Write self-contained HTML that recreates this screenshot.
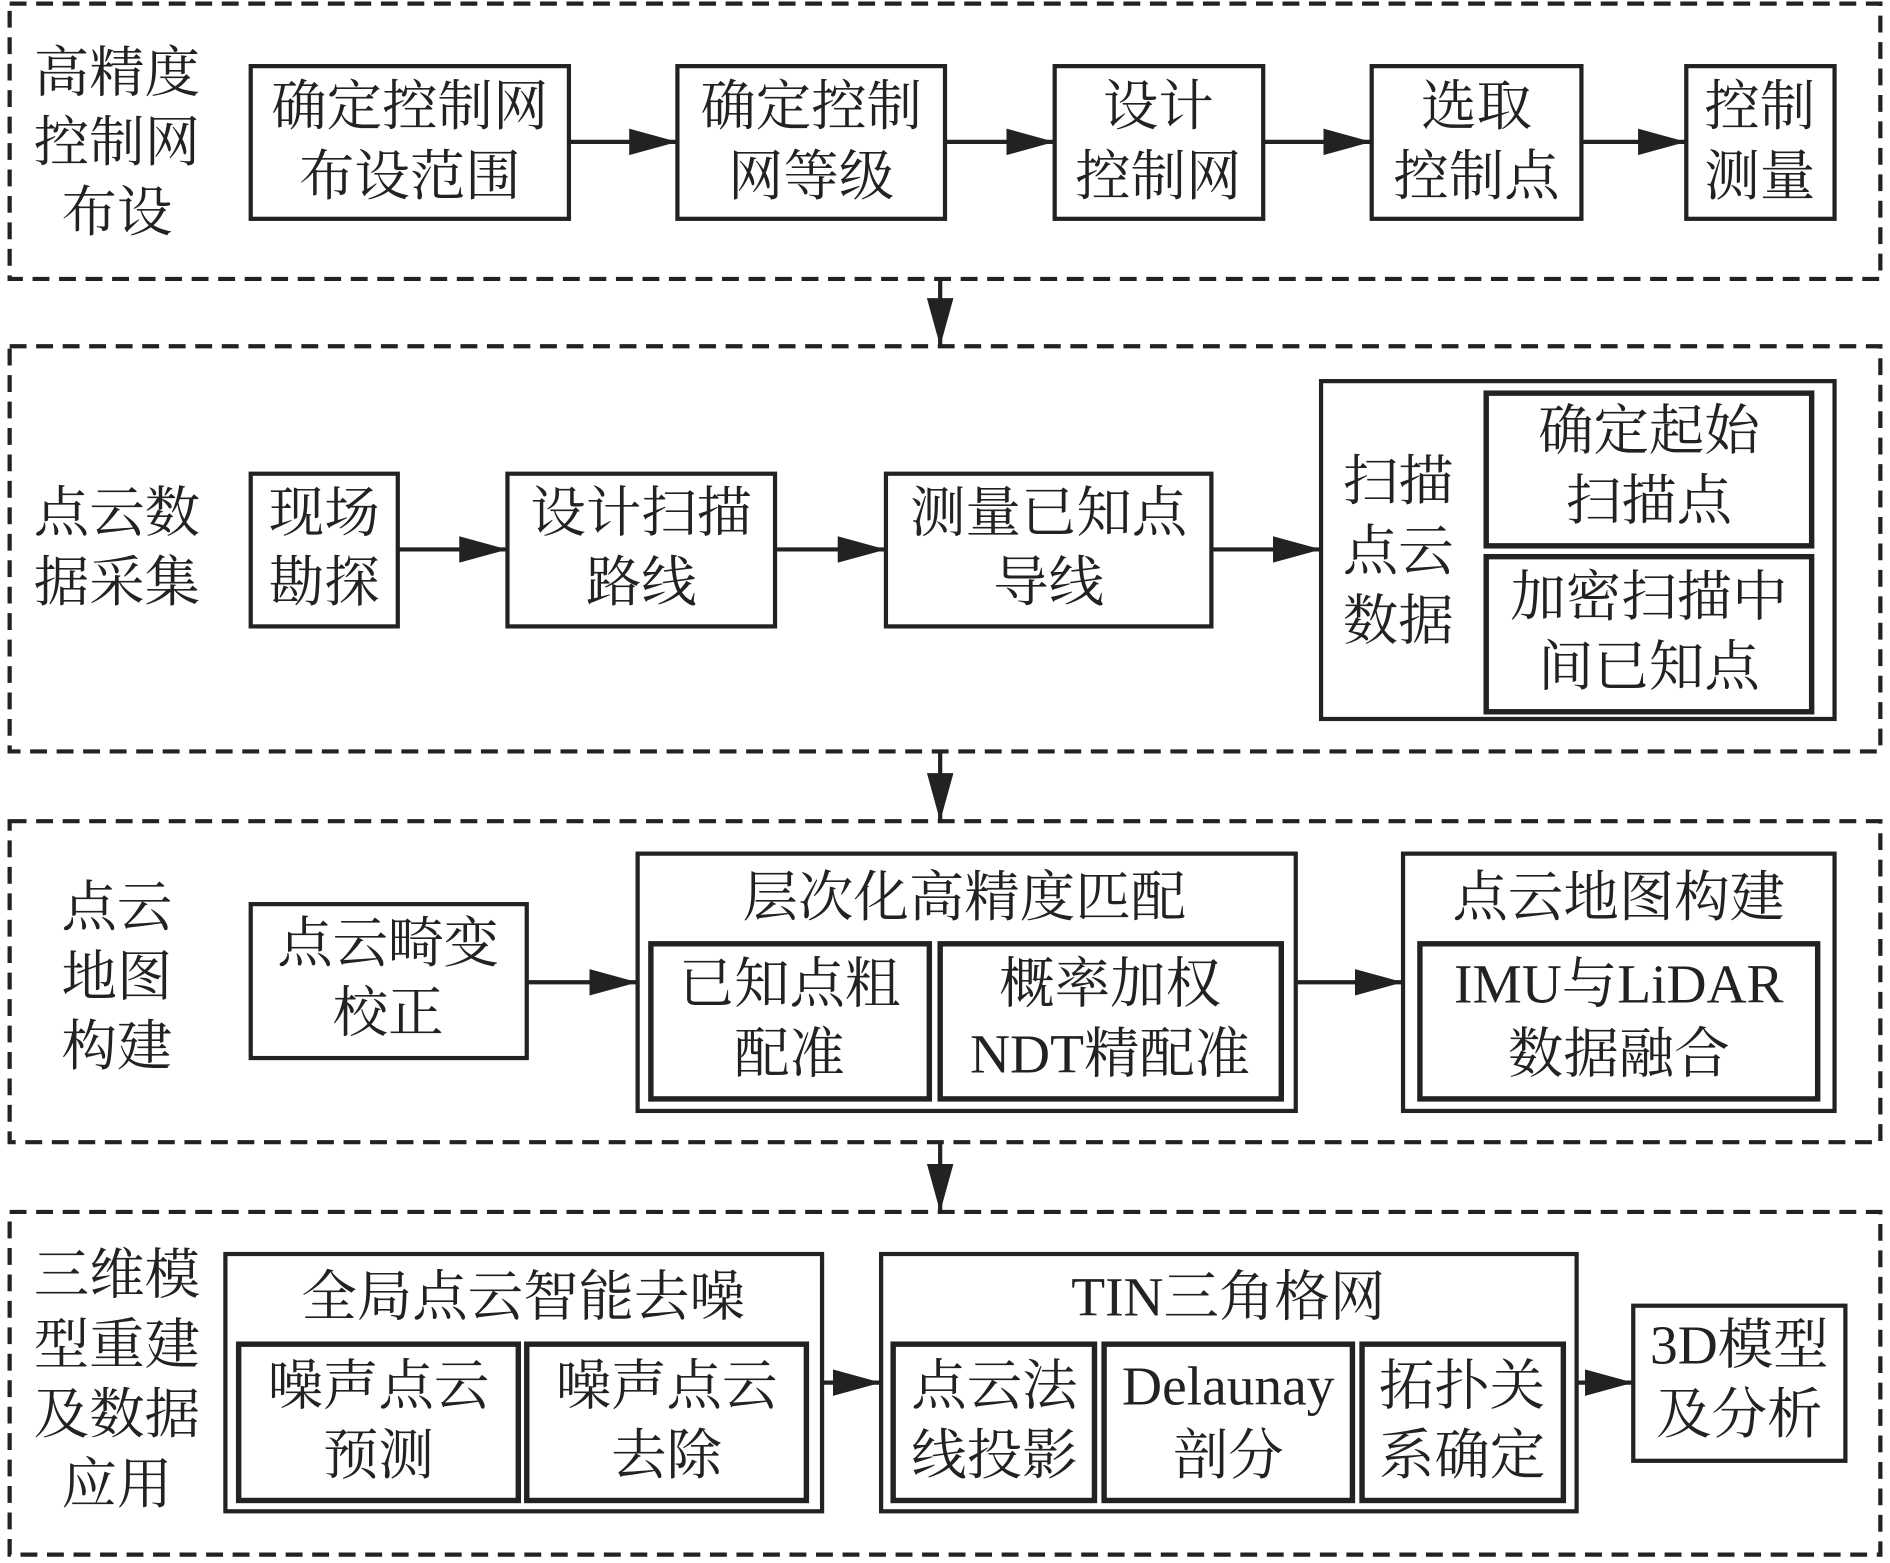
<!DOCTYPE html>
<html><head><meta charset="utf-8"><style>
html,body{margin:0;padding:0;background:#fff;}
svg{display:block;}
text{font-family:"Liberation Serif","Noto Serif CJK SC",serif;font-size:46px;fill:#222;text-anchor:middle;}
</style></head><body>
<svg width="1890" height="1563" viewBox="0 0 1568 1300" preserveAspectRatio="none" xmlns="http://www.w3.org/2000/svg">
<defs><marker id="a" markerWidth="10" markerHeight="8" refX="9" refY="4" orient="auto" markerUnits="userSpaceOnUse" viewBox="0 0 10 8"><path d="M0,0L10,4L0,8z" fill="#222"/></marker>
<marker id="b" markerWidth="40" markerHeight="22" refX="40" refY="11" orient="auto" markerUnits="userSpaceOnUse"><path d="M0,0L40,11L0,22z" fill="#222"/></marker></defs>
<g fill="none" stroke="#222" stroke-width="3.5" stroke-dasharray="14,8">
<rect x="8" y="3" width="1552" height="229"/>
<rect x="8" y="288" width="1552" height="337"/>
<rect x="8" y="683" width="1552" height="267"/>
<rect x="8" y="1008" width="1552" height="285"/>
</g>
<g stroke="#222" stroke-width="3.5" marker-end="url(#b)">
<line x1="780" y1="232" x2="780" y2="288"/>
<line x1="780" y1="625" x2="780" y2="683"/>
<line x1="780" y1="950" x2="780" y2="1008"/>
<line x1="472" y1="118" x2="562" y2="118"/>
<line x1="784" y1="118" x2="875" y2="118"/>
<line x1="1048" y1="118" x2="1138" y2="118"/>
<line x1="1312" y1="118" x2="1399" y2="118"/>
<line x1="330" y1="457" x2="421" y2="457"/>
<line x1="643" y1="457" x2="735" y2="457"/>
<line x1="1005" y1="457" x2="1096" y2="457"/>
<line x1="437" y1="817" x2="529" y2="817"/>
<line x1="1075" y1="817" x2="1164" y2="817"/>
<line x1="682" y1="1150" x2="731" y2="1150"/>
<line x1="1308" y1="1150" x2="1355" y2="1150"/>
</g>
<g fill="#fff" stroke="#222" stroke-width="3.5">
<rect x="208" y="55" width="264" height="127"/>
<rect x="562" y="55" width="222" height="127"/>
<rect x="875" y="55" width="173" height="127"/>
<rect x="1138" y="55" width="174" height="127"/>
<rect x="1399" y="55" width="123" height="127"/>
<rect x="208" y="394" width="122" height="127"/>
<rect x="421" y="394" width="222" height="127"/>
<rect x="735" y="394" width="270" height="127"/>
<rect x="1096" y="317" width="426" height="281"/>
<rect x="208" y="752" width="229" height="128"/>
<rect x="529" y="710" width="546" height="214"/>
<rect x="1164" y="710" width="358" height="214"/>
<rect x="187" y="1043" width="495" height="214"/>
<rect x="731" y="1043" width="577" height="214"/>
<rect x="1355" y="1086" width="176" height="129"/>
</g>
<g fill="#fff" stroke="#222" stroke-width="4.5">
<rect x="1233" y="327" width="270" height="127"/>
<rect x="1233" y="463" width="270" height="129"/>
<rect x="540" y="785" width="231" height="129"/>
<rect x="780" y="785" width="283" height="129"/>
<rect x="1178" y="785" width="330" height="129"/>
<rect x="198" y="1118" width="232" height="130"/>
<rect x="437" y="1118" width="232" height="130"/>
<rect x="741" y="1118" width="167" height="130"/>
<rect x="916" y="1118" width="206" height="130"/>
<rect x="1130" y="1118" width="167" height="130"/>
</g>
<text x="97" y="76">高精度</text><text x="97" y="134">控制网</text><text x="97" y="192">布设</text>
<text x="340" y="104">确定控制网</text><text x="340" y="162">布设范围</text>
<text x="673" y="104">确定控制</text><text x="673" y="162">网等级</text>
<text x="961" y="104">设计</text><text x="961" y="162">控制网</text>
<text x="1225" y="104">选取</text><text x="1225" y="162">控制点</text>
<text x="1460" y="104">控制</text><text x="1460" y="162">测量</text>
<text x="97" y="442">点云数</text><text x="97" y="500">据采集</text>
<text x="269" y="442">现场</text><text x="269" y="500">勘探</text>
<text x="532" y="442">设计扫描</text><text x="532" y="500">路线</text>
<text x="870" y="442">测量已知点</text><text x="870" y="500">导线</text>
<text x="1160" y="416">扫描</text><text x="1160" y="474">点云</text><text x="1160" y="532">数据</text>
<text x="1368" y="374">确定起始</text><text x="1368" y="432">扫描点</text>
<text x="1368" y="512">加密扫描中</text><text x="1368" y="570">间已知点</text>
<text x="97" y="770">点云</text><text x="97" y="828">地图</text><text x="97" y="886">构建</text>
<text x="322" y="800">点云畸变</text><text x="322" y="858">校正</text>
<text x="800" y="762">层次化高精度匹配</text>
<text x="655" y="834">已知点粗</text><text x="655" y="892">配准</text>
<text x="921" y="834">概率加权</text><text x="921" y="892">NDT精配准</text>
<text x="1343" y="762">点云地图构建</text>
<text x="1343" y="834">IMU与LiDAR</text><text x="1343" y="892">数据融合</text>
<text x="97" y="1076">三维模</text><text x="97" y="1134">型重建</text><text x="97" y="1192">及数据</text><text x="97" y="1250">应用</text>
<text x="434" y="1094">全局点云智能去噪</text>
<text x="314" y="1168">噪声点云</text><text x="314" y="1226">预测</text>
<text x="553" y="1168">噪声点云</text><text x="553" y="1226">去除</text>
<text x="1019" y="1094">TIN三角格网</text>
<text x="825" y="1168">点云法</text><text x="825" y="1226">线投影</text>
<text x="1019" y="1168">Delaunay</text><text x="1019" y="1226">剖分</text>
<text x="1213" y="1168">拓扑关</text><text x="1213" y="1226">系确定</text>
<text x="1443" y="1134">3D模型</text><text x="1443" y="1192">及分析</text>
</svg>
</body></html>
